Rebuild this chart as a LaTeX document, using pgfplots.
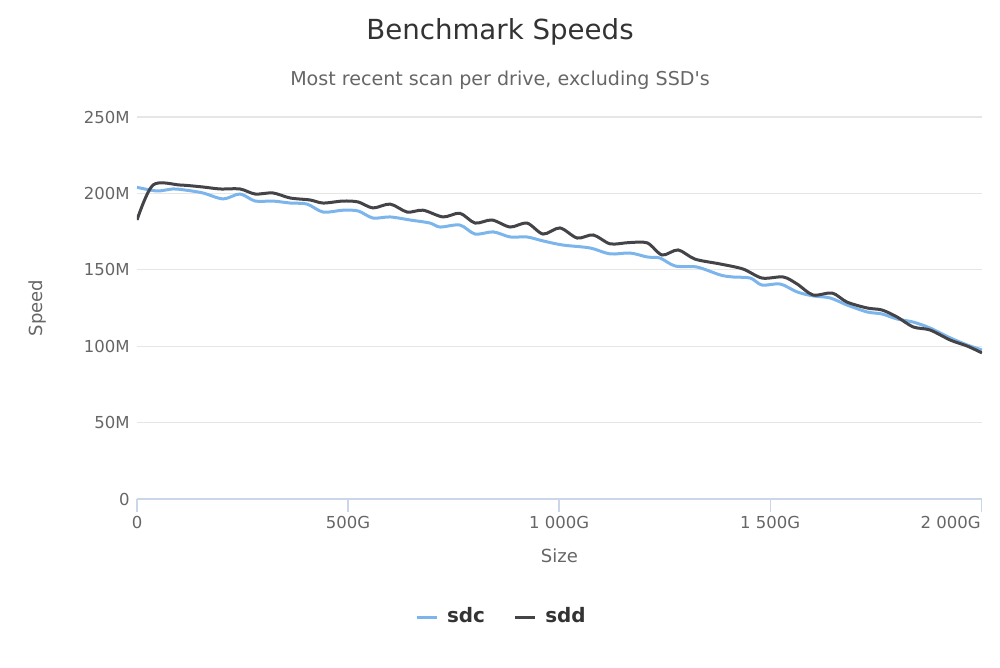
\documentclass[border=0pt]{standalone}
\usepackage{fontspec}
\setmainfont{DejaVu Sans}
\usepackage{pgfplots}
\pgfplotsset{compat=1.18}
\definecolor{sdc}{HTML}{7CB5EC}
\definecolor{sdd}{HTML}{434348}
\definecolor{txt}{HTML}{333333}
\definecolor{subc}{HTML}{666666}
\definecolor{gridc}{HTML}{E6E6E6}
\definecolor{axl}{HTML}{CCD6EB}
\begin{document}
\begin{tikzpicture}
\path[use as bounding box] (0,0) rectangle (15cm,10.005cm);
\node[text=txt, font=\fontsize{11.8}{14}\selectfont] at (7.5cm,9.53cm) {Benchmark Speeds};
\node[text=subc, font=\fontsize{8.15}{9.5}\selectfont] at (7.5cm,8.805cm) {Most recent scan per drive, excluding SSD\textquotesingle s};
\begin{axis}[
  at={(2.055cm,2.52cm)}, anchor=south west,
  scale only axis, width=12.675cm, height=5.73cm,
  xmin=0, xmax=2002, ymin=0, ymax=250,
  axis x line*=bottom, axis y line*=left,
  y axis line style={draw=none},
  x axis line style={draw=axl, line width=0.5pt},
  xtick={0,500,1000,1500},
  xticklabels={0,500G,1 000G,1 500G},
  extra x ticks={2000},
  extra x tick labels={2 000G},
  extra x tick style={xticklabel style={anchor=north east}},
  ytick={0,50,100,150,200,250},
  yticklabels={0,50M,100M,150M,200M,250M},
  xtick align=outside,
  major tick length=0.195cm,
  xtick style={draw=axl, line width=0.5pt},
  ytick style={draw=none},
  ymajorgrids, grid style={draw=gridc, line width=0.5pt},
  tick label style={text=subc, font=\fontsize{7.04}{8.5}\selectfont},
  yticklabel style={anchor=east, inner sep=0pt, xshift=-0.105cm},
  xticklabel style={anchor=north, inner sep=0pt, yshift=-0.06cm},
  xlabel={Size}, ylabel={Speed},
  label style={text=subc, font=\fontsize{7.7}{9}\selectfont},
  xlabel style={at={(axis description cs:0.5,-0.149)}, anchor=center},
  ylabel style={at={(axis description cs:-0.118,0.5)}, anchor=center},
  legend columns=2,
  legend style={at={(0.433,-0.309)}, anchor=center, draw=none, fill=none,
    font=\bfseries\fontsize{8.5}{10}\selectfont, text=txt,
    /tikz/every even column/.append style={column sep=0.36cm}},
  legend image code/.code={\draw[#1] (0cm,0cm) -- (0.3cm,0cm); \path (0.36cm,0cm);},
  every axis plot/.append style={line width=1.28pt, smooth, tension=0.5},
]
\addplot[color=sdc] coordinates {
(0,204)(47,201.6)(85,202.9)(114,202.2)(156,200.3)(204,196.4)(244,199.6)(280,195)(322,195)(363,193.7)(403,193)(441,187.8)(488,189)(524,188.5)(559,183.9)(600,184.6)(647,182.6)(694,180.6)(718,178)(765,179.3)(801,173.4)(844,174.8)(884,171.5)(924,171.5)(962,168.9)(1009,166.2)(1073,164.3)(1121,160.4)(1168,161)(1209,158.4)(1239,157.7)(1275,152.5)(1327,151.8)(1382,146.6)(1412,145.3)(1453,144.6)(1481,140)(1524,140.7)(1564,135.5)(1602,132.9)(1642,131.6)(1682,127)(1730,122.4)(1765,121.1)(1801,117.8)(1839,115.8)(1879,111.9)(1927,105.4)(1967,100.8)(2002,97.5)
};
\addlegendentry{sdc}
\addplot[color=sdd] coordinates {
(0,182.6)(38,205.5)(102,205.5)(156,204.2)(197,202.9)(244,202.9)(280,199.6)(322,200.3)(363,197)(410,195.7)(441,193.7)(488,195)(524,194.4)(559,190.5)(600,193)(640,187.8)(678,189)(725,184.6)(765,187)(801,180.6)(841,182.6)(884,178)(924,180.6)(962,173.4)(1002,177.4)(1043,170.8)(1081,172.8)(1121,167)(1165,167.8)(1209,167.6)(1244,159.7)(1282,163)(1322,157)(1382,153.8)(1436,150.5)(1481,144.6)(1531,145.3)(1564,140.7)(1602,133.5)(1647,134.8)(1682,128.9)(1730,125)(1765,123.7)(1801,119.1)(1839,112.6)(1879,110.6)(1927,104)(1967,100.1)(2002,95.6)
};
\addlegendentry{sdd}
\end{axis}
\end{tikzpicture}
\end{document}
